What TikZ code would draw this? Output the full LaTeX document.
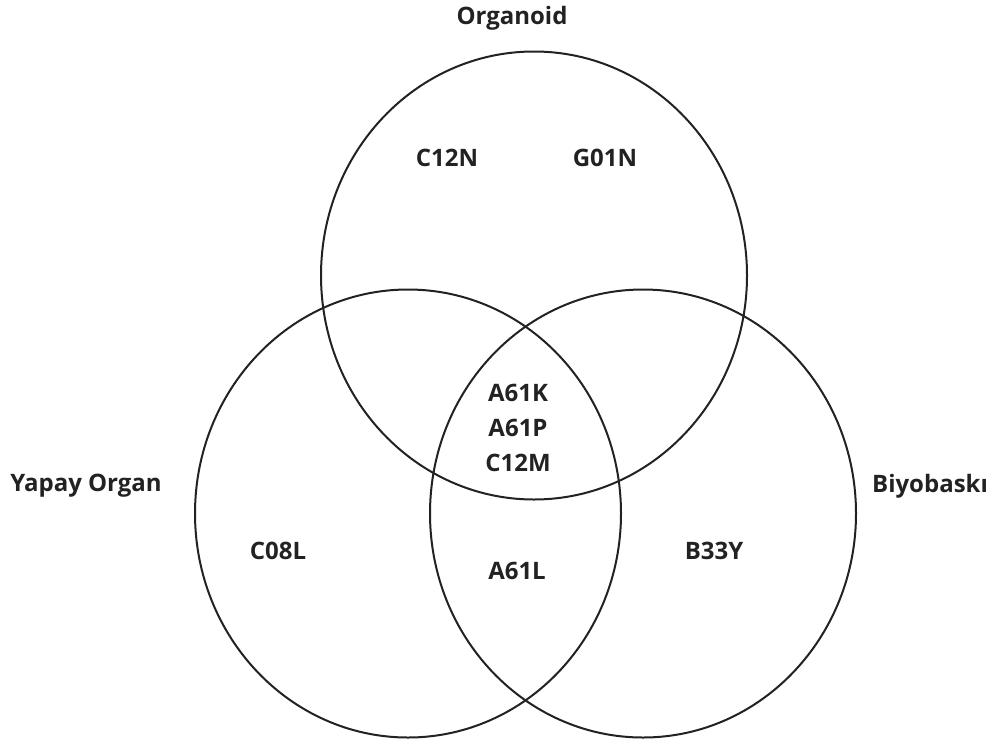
\documentclass[tikz,border=0pt]{standalone}
\usepackage{fontspec}
\setmainfont{Open Sans}[BoldFont={Open Sans Bold}]
\definecolor{ink}{HTML}{222222}
\begin{document}
\begin{tikzpicture}[x=1pt,y=-1pt,
  setring/.style={draw=ink,line width=2pt,x radius=213,y radius=224},
  lbl/.style={text=ink,font=\bfseries\fontsize{24}{28}\selectfont,inner sep=0pt},
  code/.style={lbl,align=center}]
  \useasboundingbox (0,0) rectangle (1000,742);
  % the three sets
  \draw[setring] (534,275.5) ellipse [];
  \draw[setring] (408,513.5) ellipse [];
  \draw[setring] (643,513.5) ellipse [];
  % set names
  \node[lbl] (organoid) at (512,18) {Organoid};
  \node[lbl] (yapay) at (86,486) {Yapay Organ};
  \node[lbl] (biyo) at (930,486) {Biyobaskı};
  % codes in each region
  \node[code] (c12n) at (447,158) {C12N};
  \node[code] (g01n) at (605,158) {G01N};
  \node[code] (a61k) at (518,393) {A61K};
  \node[code] (a61p) at (518,428) {A61P};
  \node[code] (c12m) at (518,463) {C12M};
  \node[code] (c08l) at (278,551) {C08L};
  \node[code] (a61l) at (517,571) {A61L};
  \node[code] (b33y) at (714,551) {B33Y};
\end{tikzpicture}
\end{document}
